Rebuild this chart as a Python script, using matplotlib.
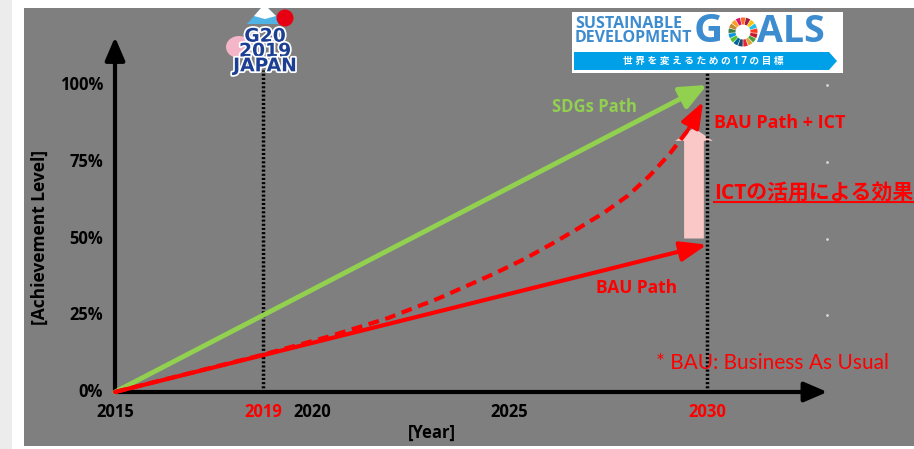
import matplotlib
matplotlib.use("Agg")
import matplotlib.pyplot as plt
import matplotlib.transforms as mtransforms
from matplotlib.lines import Line2D
from matplotlib.patches import FancyArrow, Rectangle, Wedge, Circle, Polygon, Ellipse
import matplotlib.patheffects as pe
import numpy as np

plt.rcParams['font.family'] = ['Open Sans', 'Noto Sans CJK JP', 'DejaVu Sans']

# ---- data ----
years = [2015, 2030]
sdgs_path = [0, 100]          # % achievement
bau_path = [0, 48]
ict_years = [2015, 2018.7, 2020.4, 2021.9, 2023.2, 2024.6, 2025.4, 2026.1, 2026.7,
             2027.4, 2028.0, 2028.55, 2029.05, 2029.5, 2029.9]
ict_path = [0, 12, 18, 24, 30.5, 38.5, 43.5, 48.5, 53,
            58.5, 64, 70.5, 77.5, 85, 94.5]
ict_effect_year = 2029.67
ict_effect = [50, 86]         # pink arrow: bottom, top
event_years = [2018.75, 2030]  # G20 2019, SDGs 2030
event_tops = [105, 104]
y_ticks = [0, 25, 50, 75, 100]
y_tick_labels = ['0%', '25%', '50%', '75%', '100%']
x_ticks = [2015, 2018.75, 2020, 2025, 2030]
x_tick_labels = ['2015', '2019', '2020', '2025', '2030']
x_tick_colors = ['black', 'red', 'black', 'black', 'red']

GREEN = '#92d050'
RED = '#ff0000'
PINK = '#fbc8c8'
PANEL = '#7f7f7f'

W, H = 914, 449
fig = plt.figure(figsize=(W / 100, H / 100), dpi=100, facecolor='white')

# main axes over the gray panel (pixels 24..914 x 8..446)
ax = fig.add_axes([24 / W, 3 / H, 890 / W, 438 / H])
ax.set_facecolor(PANEL)
px_year = (707 - 115) / 15
px_pct = (392 - 85) / 100
ax.set_xlim(2015 - 91 / px_year, 2015 + 799 / px_year)
ax.set_ylim(-(446 - 392) / px_pct, (392 - 8) / px_pct)
ax.set_xticks([])
ax.set_yticks([])
for s in ax.spines.values():
    s.set_visible(False)

# axis arrows
arrow_kw = dict(arrowstyle='-|>,head_width=0.3,head_length=0.7', lw=3, color='black',
                shrinkA=0, shrinkB=0, mutation_scale=20)
ax.annotate('', xy=(2015, 115.6), xytext=(2015, 0), arrowprops=arrow_kw, zorder=4)
ax.annotate('', xy=(2033.05, 0), xytext=(2015, 0), arrowprops=arrow_kw, zorder=4)

# event dotted lines
for ex, top in zip(event_years, event_tops):
    ax.plot([ex, ex], [0, top], color='black', lw=2.5, ls=(0, (0.6, 0.6)), zorder=3)

# pink ICT effect arrow
ax.add_patch(FancyArrow(ict_effect_year, ict_effect[0], 0, ict_effect[1] - ict_effect[0],
                        width=0.5, head_width=0.95, head_length=4.2, length_includes_head=True,
                        color=PINK, lw=0, zorder=2))

# SDGs path and BAU path
ax.annotate('', xy=(years[-1], sdgs_path[-1]), xytext=(years[0], sdgs_path[0]),
            arrowprops=dict(arrowstyle='-|>,head_width=0.35,head_length=0.8', lw=3.5,
                            color=GREEN, shrinkA=0, shrinkB=0, mutation_scale=20), zorder=5)
ax.annotate('', xy=(years[-1], bau_path[-1]), xytext=(years[0], bau_path[0]),
            arrowprops=dict(arrowstyle='-|>,head_width=0.3,head_length=0.8', lw=3,
                            color=RED, shrinkA=0, shrinkB=0, mutation_scale=20), zorder=5)

# BAU + ICT dashed curve
ax.plot(ict_years[:-1], ict_path[:-1], color=RED, lw=3, dashes=(2.6, 1.6), zorder=5)
end = np.array([ict_years[-1], ict_path[-1]])
prev = np.array([ict_years[-2], ict_path[-2]])
ax.annotate('', xy=end, xytext=prev,
            arrowprops=dict(arrowstyle='-|>,head_width=0.3,head_length=0.8', lw=2.5,
                            color=RED, shrinkA=0, shrinkB=0, mutation_scale=20), zorder=5)

# faint gridline end dots
ax.plot([2033.05] * 4, y_ticks[1:], 'o', ms=2, color='#d8d8d8', mec='none', zorder=2)

# tick labels
for yv, lab in zip(y_ticks, y_tick_labels):
    ax.text(2015 - 12 / px_year, yv, lab, ha='right', va='center', fontsize=12,
            fontweight='bold', color='black')
for xv, lab, c in zip(x_ticks, x_tick_labels, x_tick_colors):
    ax.text(xv, -20 / px_pct, lab, ha='center', va='center', fontsize=12,
            fontweight='bold', color=c)

# ---- overlay in pixel coordinates for labels and logos ----
ov = fig.add_axes([0, 0, 1, 1], zorder=5)
ov.set_xlim(0, W)
ov.set_ylim(H, 0)
ov.axis('off')
ov.patch.set_alpha(0)

ov.add_patch(Rectangle((0, 0), 12, H, color='#ececec', lw=0))

ov.text(40, 237, '[Achievement Level]', rotation=90, ha='center', va='center',
        fontsize=12.5, fontweight='bold', color='black')
ov.text(432, 433, '[Year]', ha='center', va='center', fontsize=12, fontweight='bold')

ov.text(594, 107, 'SDGs Path', ha='center', va='center', fontsize=12,
        fontweight='bold', color=GREEN)
ov.text(714, 123, 'BAU Path + ICT', ha='left', va='center', fontsize=13,
        fontweight='bold', color=RED)
ict_txt = ov.text(714, 193, 'ICTの活用による効果', ha='left', va='center', fontsize=15,
                  fontweight='bold', color=RED)
ov.text(637, 288, 'BAU Path', ha='center', va='center', fontsize=12.5,
        fontweight='bold', color=RED)
ov.text(656, 363, '* BAU: Business As Usual', ha='left', va='center', fontsize=15,
        color=RED, family=['Lato', 'DejaVu Sans'])

# G20 2019 Japan logo
ov.add_patch(Polygon([[247, 24], [261, 8], [268, 8], [284, 24]], closed=True,
                     color='#4fb3e6', lw=0))
ov.add_patch(Polygon([[254, 16], [261, 8], [268, 8], [276, 16], [265, 19]], closed=True,
                     color='white', lw=0))
ov.add_patch(Circle((285, 18), 8.5, color='#e60012', lw=0))
ov.add_patch(Ellipse((239, 47), 26, 22, color='#f5b5c8', lw=0))
ov.text(265, 51, 'G20\n2019\nJAPAN', ha='center', va='center', fontsize=13.5,
        fontweight='bold', color='#1c3f94', linespacing=0.72, family='DejaVu Sans',
        path_effects=[pe.withStroke(linewidth=2.5, foreground='white')])

# SDGs logo
ov.add_patch(Rectangle((572, 12), 271, 61, color='white', lw=0))
SDG_BLUE = '#3d8ccf'
ov.text(575, 31, 'SUSTAINABLE\nDEVELOPMENT', ha='left', va='center', fontsize=11.5,
        fontweight='bold', color=SDG_BLUE, linespacing=0.85)
ov.text(694, 32, 'G', ha='left', va='center', fontsize=29, fontweight='bold', color=SDG_BLUE)
ov.text(757, 32, 'ALS', ha='left', va='center', fontsize=27, fontweight='bold', color=SDG_BLUE)
sdg_colors = ['#E5243B', '#DDA63A', '#4C9F38', '#C5192D', '#FF3A21', '#26BDE2', '#FCC30B',
              '#A21942', '#FD6925', '#DD1367', '#FD9D24', '#BF8B2E', '#3F7E44', '#0A97D9',
              '#56C02B', '#00689D', '#19486A']
step = 360 / len(sdg_colors)
for i, c in enumerate(sdg_colors):
    ov.add_patch(Wedge((743, 32), 14.5, 90 - (i + 1) * step + 1.5, 90 - i * step - 1.5,
                       width=7, color=c, lw=0))
ov.add_patch(Polygon([[574, 52], [829, 52], [837, 61], [829, 70], [574, 70]], closed=True,
                     color='#00a0e9', lw=0))
ov.text(703, 61, '世 界 を 変 え る た め の 1 7 の 目 標', ha='center', va='center',
        fontsize=7, fontweight='bold', color='white')

# underline for the Japanese label
fig.canvas.draw()
bb = ict_txt.get_window_extent()
fig.add_artist(Line2D([bb.x0, bb.x1], [bb.y0 + 2, bb.y0 + 2], color=RED, lw=1.5,
                      transform=mtransforms.IdentityTransform()))

fig.savefig('out.png', dpi=100, facecolor='white')
